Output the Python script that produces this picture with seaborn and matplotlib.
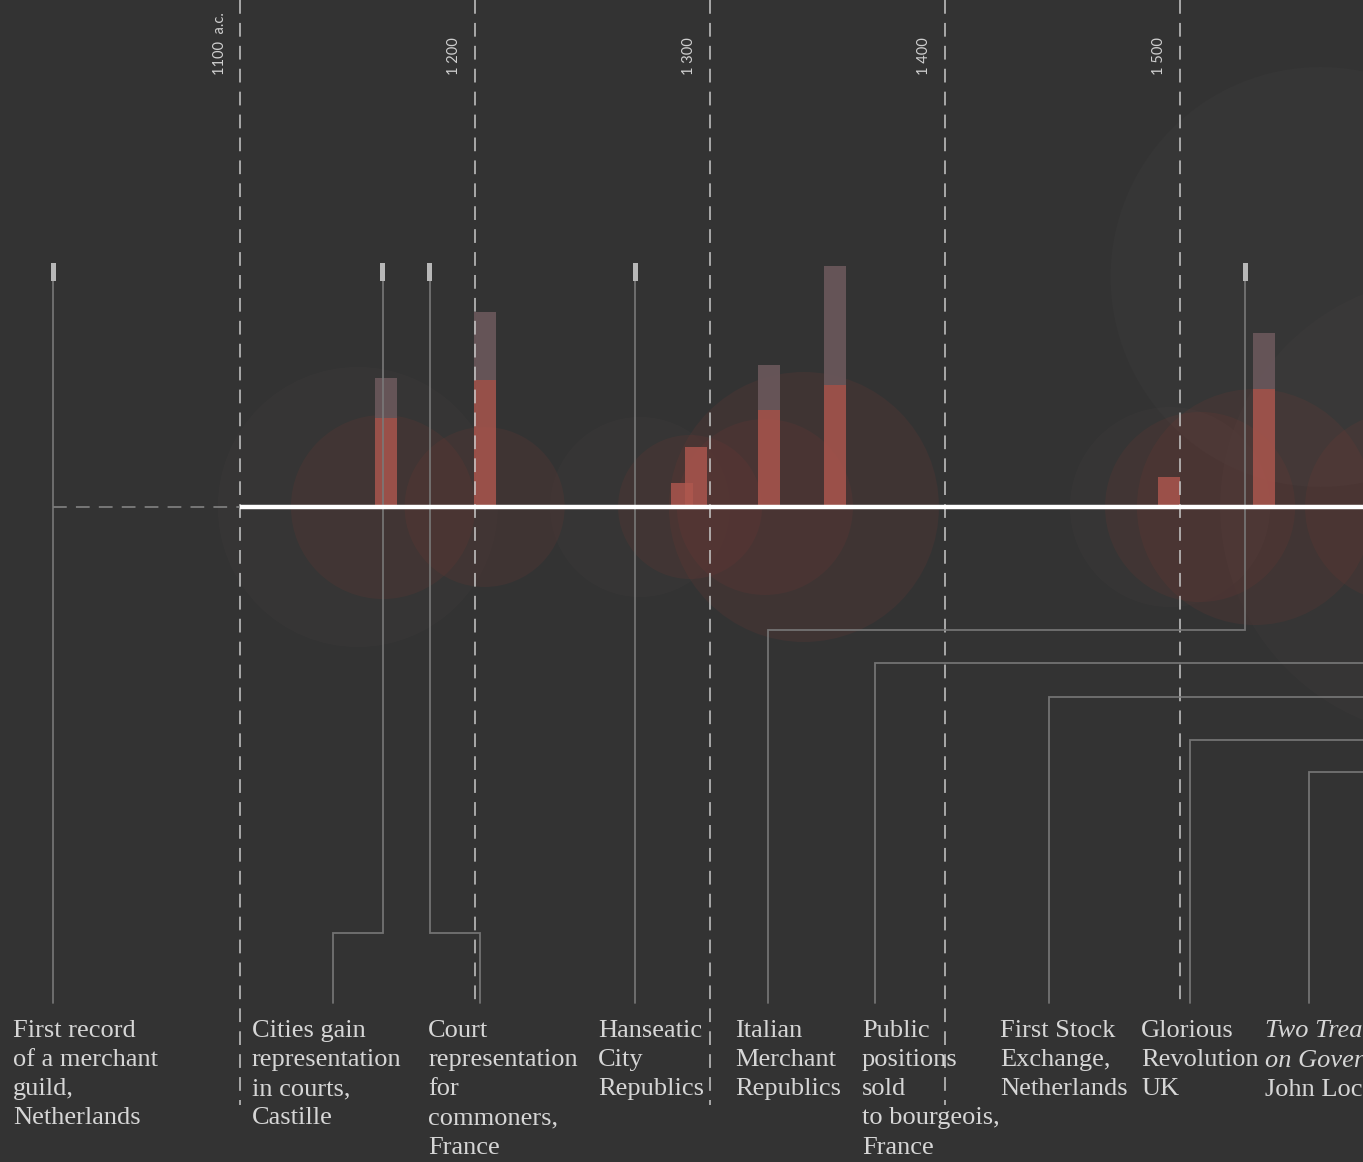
import numpy as np
import pandas as pd
import matplotlib.pyplot as plt
import seaborn as sns
from matplotlib.patches import Ellipse

# x axis in years, y axis in "px above the timeline"
PX_PER_YEAR = 2.348
BG = '#333333'
LINE_H = 29.5  # text line height in px

# century markers
century_years = [1100, 1200, 1300, 1400, 1500]
century_labels = ['1100  a.c.', '1 200', '1 300', '1 400', '1 500']
century_depth = [-598, -498, -598, -598, -498]

# bars sitting on the timeline: red lower part + greyish upper part
bar_years = [1162.0, 1204.2, 1288.1, 1294.0, 1325.1, 1353.2, 1495.5, 1535.9]
bar_red = [89, 127, 24, 60, 97, 122, 30, 118]
bar_grey = [40, 68, 0, 0, 45, 119, 0, 56]

# translucent circles around the events
glow_years = [1160.7, 1204.0, 1291.5, 1323.4, 1340.0, 1508.7, 1532.1, 1593.9]
glow_radius = [92, 80, 72, 88, 135, 95, 118, 95]
halo_years = [1150.0, 1270.2, 1495.9, 1615.2]
halo_radius = [140, 90, 100, 230]

# events with a cap on top
event_years = [1020.2, 1160.7, 1180.7, 1268.1, 1527.9]

# labels and their connectors
labels = [
    'First record\nof a merchant\nguild,\nNetherlands',
    'Cities gain\nrepresentation\nin courts,\nCastille',
    'Court\nrepresentation\nfor\ncommoners,\nFrance',
    'Hanseatic\nCity\nRepublics',
    'Italian\nMerchant\nRepublics',
    'Public\npositions\nsold\nto bourgeois,\nFrance',
    'First Stock\nExchange,\nNetherlands',
    'Glorious\nRevolution\nUK',
]
label_years = [1003.2, 1104.9, 1179.9, 1252.3, 1310.6, 1364.7, 1423.5, 1483.6]
locke_year = 1536.4
locke_title = 'Two Treatises\non Government,'
locke_author = 'John Locke'

source_years = [1020.2, 1160.7, 1180.7, 1268.1, 1527.9, 1620, 1620, 1620, 1620]
drop_years = [1020.2, 1139.4, 1202.0, 1268.1, 1324.7, 1370.3, 1444.4, 1504.4, 1555.1]
lane_depth = [-496, -426, -426, -496, -123, -156, -190, -233, -265]

sns.set_theme(style='dark', rc={'axes.facecolor': BG, 'figure.facecolor': BG})

fig = plt.figure(figsize=(13.63, 11.62), dpi=100)
ax = fig.add_axes([0, 0, 1, 1])
ax.set_xlim(997.6, 1578.1)
ax.set_ylim(-655, 507)
ax.set_axis_off()

# faint background blob, upper right
ax.add_patch(Ellipse((1560, 230), 420 / PX_PER_YEAR, 420, color='#3d3d3d', alpha=0.3, lw=0, zorder=0))

for yr, r in zip(halo_years, halo_radius):
    ax.add_patch(Ellipse((yr, 0), 2 * r / PX_PER_YEAR, 2 * r, color='#454040',
                         alpha=0.22, lw=0, zorder=1))
for yr, r in zip(glow_years, glow_radius):
    ax.add_patch(Ellipse((yr, 0), 2 * r / PX_PER_YEAR, 2 * r, color='#7f3a33',
                         alpha=0.16, lw=0, zorder=2))

# bars
bw = 22 / PX_PER_YEAR
ax.bar(bar_years, bar_red, width=bw, bottom=0, color='#b0584f', alpha=0.8, lw=0, zorder=3)
ax.bar(bar_years, bar_grey, width=bw, bottom=bar_red, color='#6e5a5e', alpha=0.85, lw=0, zorder=3)

# century dashed lines and labels
for yr, lab, d in zip(century_years, century_labels, century_depth):
    ax.plot([yr, yr], [507, d], color='#c9c9c9', lw=1.1, dashes=(9, 6), zorder=4)
    ax.annotate(lab, (yr, 432), xytext=(-10, 0), textcoords='offset points',
                rotation=90, rotation_mode='anchor', ha='left', va='bottom',
                color='#cfcfcf', fontsize=10.5, family='Lato')

# dashed lead-in before 1100
ax.plot([event_years[0], century_years[0]], [0, 0], color='#8a8a8a', lw=1.1,
        dashes=(9, 6), zorder=4)

# connectors
for src, drop, lane in zip(source_years, drop_years, lane_depth):
    ax.plot([src, src, drop, drop], [226, lane, lane, -496], color='#7a7a7a',
            lw=1.3, alpha=0.9, zorder=5, solid_joinstyle='miter')

# caps
ax.bar(event_years, 18, width=5 / PX_PER_YEAR, bottom=226, color='#b8b8b8', lw=0, zorder=6)

# timeline
ax.plot([century_years[0], 1580], [0, 0], color='white', lw=3.2, zorder=7,
        solid_capstyle='butt')

# labels
font = dict(color='#d6d6d6', fontsize=19, family='Liberation Serif', linespacing=1.42, zorder=8)
for yr, txt in zip(label_years, labels):
    ax.text(yr, -513, txt, ha='left', va='top', **font)
ax.text(locke_year, -513, locke_title, ha='left', va='top', style='italic', **font)
ax.text(locke_year, -513 - 2 * LINE_H, locke_author, ha='left', va='top', **font)

fig.savefig('out.png', dpi=100, facecolor=BG)
